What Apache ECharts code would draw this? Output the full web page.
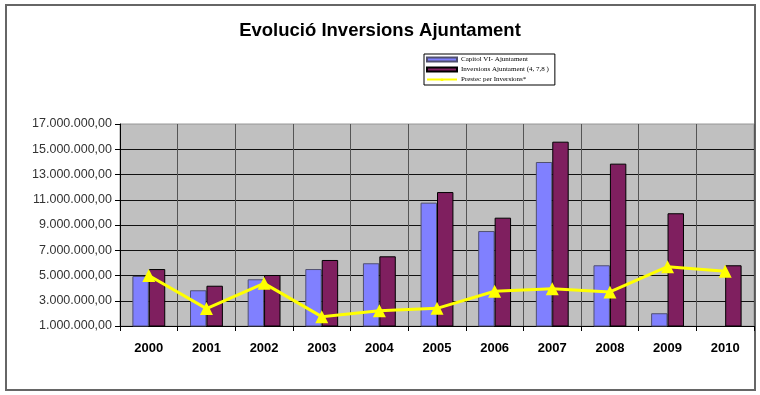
<!DOCTYPE html>
<html><head><meta charset="utf-8">
<script src="https://cdn.jsdelivr.net/npm/echarts@6/dist/echarts.min.js"></script>
<style>html,body{margin:0;padding:0;background:#fff}#c{width:760px;height:395px}</style>
</head><body><div id="c"></div>
<script>
var categories = ['2000','2001','2002','2003','2004','2005','2006','2007','2008','2009','2010'];
var capitolVI = [4960000, 3830000, 4700000, 5510000, 5970000, 10770000, 8520000, 13990000, 5810000, 2010000, null];
var inversions = [5510000, 4190000, 5040000, 6230000, 6520000, 11610000, 9580000, 15600000, 13860000, 9930000, 5810000];
var prestec = [5000000, 2380000, 4380000, 1740000, 2210000, 2400000, 3750000, 3950000, 3700000, 5700000, 5330000];
var seriesNames = ['Capitol VI- Ajuntament', 'Inversions Ajuntament (4, 7,8 )', 'Prestec per Inversions*'];
var titleText = 'Evolució Inversions Ajuntament';

function fmt(v){
  var s = Math.round(v).toString().replace(/\B(?=(\d{3})+(?!\d))/g, '.');
  return s + ',00';
}
var chart = echarts.init(document.getElementById('c'), null, {renderer:'canvas'});
chart.setOption({
  animation:false,
  title:{text:titleText,left:'center',top:16,textStyle:{fontFamily:'Arial, Liberation Sans',fontWeight:'bold',fontSize:18.5,color:'#000'}},
  graphic:[{type:'rect',shape:{x:6,y:5,width:749,height:385},style:{fill:null,stroke:'#666',lineWidth:2},z:-10}],
  legend:{
    orient:'vertical',left:424,top:54,
    itemWidth:30,itemHeight:4,itemGap:3,
    padding:[2,6,2,2],
    backgroundColor:'#fff',borderColor:'#000',borderWidth:1,
    textStyle:{fontFamily:'Liberation Serif, serif',fontSize:7,color:'#000',padding:[0,0,0,-1]},
    data:[{name:seriesNames[0],icon:'rect'},{name:seriesNames[1],icon:'rect'},{name:seriesNames[2]}]
  },
  grid:{left:120,right:6,top:124,bottom:69,show:true,backgroundColor:'#c0c0c0',borderColor:'#999',borderWidth:1},
  xAxis:{
    type:'category',data:categories,boundaryGap:true,
    axisLine:{lineStyle:{color:'#000',width:1}},
    axisTick:{show:true,length:5,lineStyle:{color:'#000'}},
    axisLabel:{margin:16,fontFamily:'Arial, Liberation Sans',fontWeight:'bold',fontSize:13,color:'#000'},
    splitLine:{show:true,lineStyle:{color:'#555',width:1}}
  },
  yAxis:{
    type:'value',min:1000000,max:17000000,interval:2000000,
    axisLine:{show:true,lineStyle:{color:'#000',width:1}},
    axisTick:{show:true,length:5,lineStyle:{color:'#000'}},
    axisLabel:{margin:8,fontFamily:'Arial, Liberation Sans',fontSize:12.5,color:'#333',formatter:fmt},
    splitLine:{show:true,lineStyle:{color:['#111','#111','#111','#111','#111','#111','#111','#111','#aaa'],width:1}}
  },
  series:[
    {name:seriesNames[0],type:'bar',data:capitolVI,barGap:'0%',barCategoryGap:'43%',
     itemStyle:{color:'#8080ff',borderColor:'#505070',borderWidth:1}},
    {name:seriesNames[1],type:'bar',data:inversions,
     itemStyle:{color:'#7f1f5f',borderColor:'#000',borderWidth:1}},
    {name:seriesNames[2],type:'line',data:prestec,symbol:'triangle',symbolSize:13,z:5,
     lineStyle:{color:'#ffff00',width:3},itemStyle:{color:'#ffff00'}}
  ]
});
</script></body></html>
